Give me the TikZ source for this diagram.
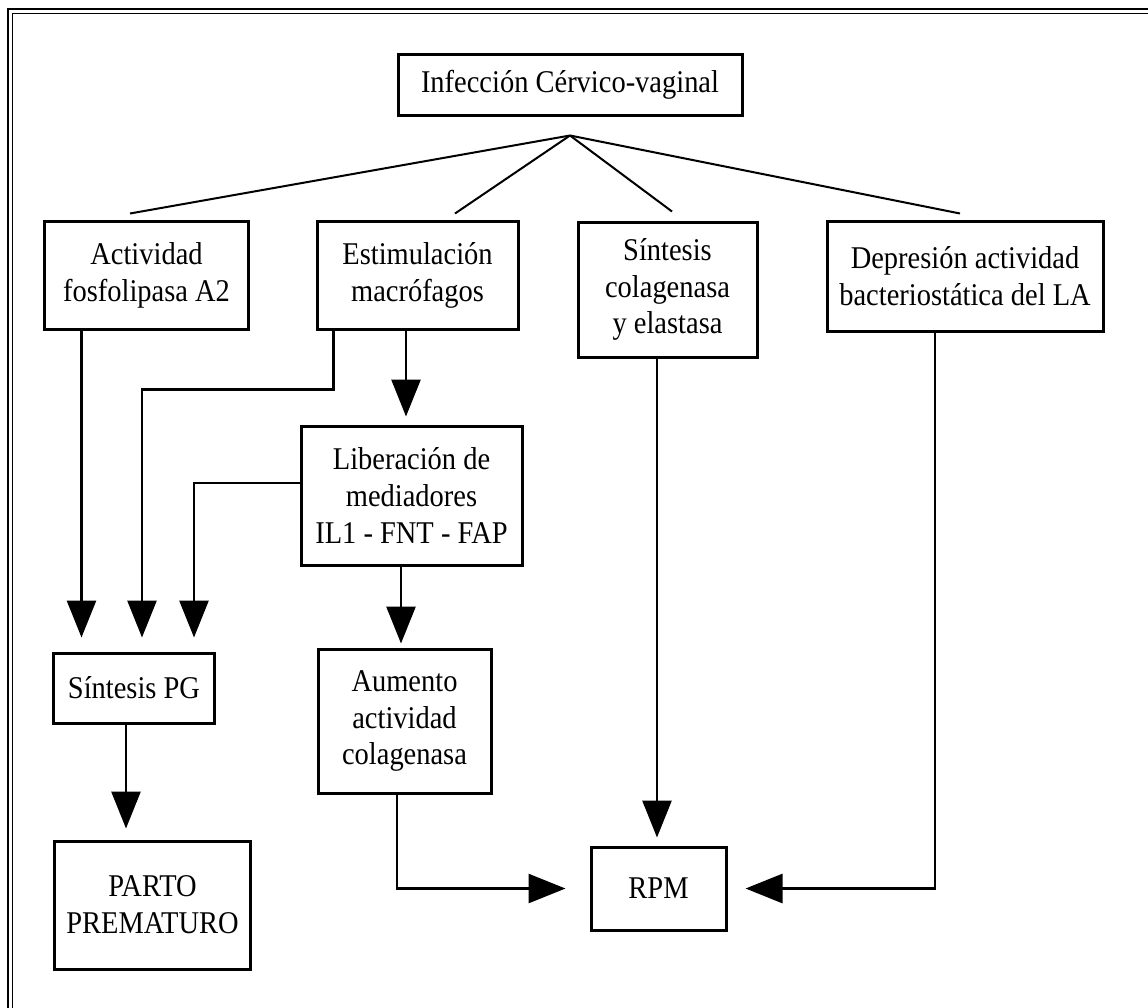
\documentclass[tikz,border=0pt]{standalone}
\usepackage{fontspec}
\setmainfont{Liberation Serif}[FakeStretch=0.9]
\usepackage{tikz}
\usetikzlibrary{arrows.meta,calc}

\begin{document}
\begin{tikzpicture}[
  x=0.2mm,
  y=-0.2mm,
  font=\fontsize{18}{21}\selectfont,
  box/.style={
    rectangle,
    draw,
    line width=0.6mm,
    align=center,
    inner sep=0pt
  },
  arr/.style={
    line width=0.55mm,
    -{Triangle[length=7.4mm,width=5.8mm]}
  },
  fan/.style={
    line width=0.4mm
  }
]
\clip (0,0) rectangle (1148,1007);
\draw[line width=0.45mm] (8,1020) -- (8,9) -- (1160,9);
\draw[line width=0.35mm] (12.5,1020) -- (12.5,13.5) -- (1160,13.5);

\node[
  box,
  minimum width=68.8mm,
  minimum height=12.2mm
] (infec) at (570,84.5)
{Infección Cérvico-vaginal};
\node[
  box,
  minimum width=40.6mm,
  minimum height=21.6mm
] (act) at (146.5,275)
{Actividad\\fosfolipasa A2};
\node[
  box,
  minimum width=40.2mm,
  minimum height=21.6mm
] (estim) at (417.5,275)
{Estimulación\\macrófagos};
\node[
  box,
  minimum width=35.8mm,
  minimum height=27mm
] (sincol) at (667.5,289.5)
{Síntesis\\colagenasa\\y elastasa};
\node[
  box,
  minimum width=55.2mm,
  minimum height=22mm
] (depre) at (965,276)
{Depresión actividad\\bacteriostática del LA};
\node[
  box,
  minimum width=44.2mm,
  minimum height=27.8mm
] (liber) at (411.5,495.5)
{Liberación de\\mediadores\\IL1 - FNT - FAP};
\node[
  box,
  minimum width=34.6mm,
  minimum height=28.8mm
] (aumen) at (404.5,721)
{Aumento\\actividad\\colagenasa};
\node[
  box,
  minimum width=32mm,
  minimum height=14mm
] (pg) at (134,688)
{Síntesis PG};
\node[
  box,
  minimum width=39mm,
  minimum height=25.6mm
] (parto) at (152.5,905)
{PARTO\\PREMATURO};
\node[
  box,
  minimum width=27mm,
  minimum height=16.6mm
] (rpm) at (658.5,888.5)
{RPM};

% fan below the infection box
\coordinate (apex) at ([shift={(0,19)}]infec.south);
\draw[fan] (apex) -- ([shift={(-16.5,-6)}]act.north);
\draw[fan] (apex) -- ([shift={(37.5,-6)}]estim.north);
\draw[fan] (apex) -- ([shift={(4.5,-9)}]sincol.north);
\draw[fan] (apex) -- ([shift={(-5,-6)}]depre.north);

\coordinate (actout) at ([shift={(38,0)}]act.south west);
\coordinate (estout) at ([shift={(18,0)}]estim.south west);
\coordinate (estmid) at ([shift={(-11.5,0)}]estim.south);
\coordinate (libout) at ([shift={(0,-12.5)}]liber.west);
\coordinate (libdown) at ([shift={(-10.5,0)}]liber.south);
\coordinate (pgin2) at ([shift={(8,0)}]pg.north);
\coordinate (pgin3) at ([shift={(60,0)}]pg.north);
\coordinate (pgout) at ([shift={(-8,0)}]pg.south);
\coordinate (sincout) at ([shift={(-10.5,0)}]sincol.south);
\coordinate (aumout) at ([shift={(-7.5,0)}]aumen.south);
\coordinate (depout) at ([shift={(-30,0)}]depre.south);

\draw[arr, shorten >=2.8mm] (actout) -- (actout |- pg.north);
\draw[arr, shorten >=2.8mm] (estout) -- ++(0,59) -| (pgin2);
\draw[arr, shorten >=1.6mm] (estmid) -- (estmid |- liber.north);
\draw[arr, shorten >=2.8mm] (libout) -| (pgin3);
\draw[arr, shorten >=0.8mm] (libdown) -- (libdown |- aumen.north);
\draw[arr, shorten >=2.2mm] (pgout) -- (pgout |- parto.north);
\draw[arr, shorten >=1.6mm] (sincout) -- (sincout |- rpm.north);
\draw[arr, shorten >=4.8mm] (aumout) |- (rpm.west);
\draw[arr, shorten >=3.6mm] (depout) |- (rpm.east);
\end{tikzpicture}
\end{document}
